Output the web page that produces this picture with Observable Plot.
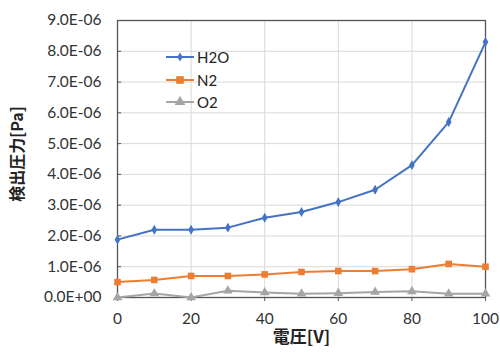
<!DOCTYPE html>
<html>
<head>
<meta charset="utf-8">
<script src="https://cdn.jsdelivr.net/npm/d3@7"></script>
<script src="https://cdn.jsdelivr.net/npm/@observablehq/plot@0.6"></script>
<style>
  body { margin: 0; background: #fff; }
  #wrap { position: relative; width: 500px; height: 352px; }
  #legend { position: absolute; left: 166px; top: 46px; font-family: Lato, "Open Sans", sans-serif; font-size: 15px; color: #222; }
  #legend .item { display: flex; align-items: center; height: 22.5px; }
  #legend svg { margin-right: 3px; }
</style>
</head>
<body>
<div id="wrap"><div id="legend"></div></div>
<script>
// ---- data ----
const voltage = [0, 10, 20, 30, 40, 50, 60, 70, 80, 90, 100];
const h2o = [1.88e-6, 2.2e-6, 2.2e-6, 2.27e-6, 2.59e-6, 2.78e-6, 3.1e-6, 3.5e-6, 4.3e-6, 5.7e-6, 8.3e-6];
const n2  = [0.5e-6, 0.57e-6, 0.7e-6, 0.7e-6, 0.75e-6, 0.83e-6, 0.86e-6, 0.86e-6, 0.92e-6, 1.09e-6, 1.0e-6];
const o2  = [0.0, 0.13e-6, 0.0, 0.22e-6, 0.16e-6, 0.12e-6, 0.14e-6, 0.18e-6, 0.2e-6, 0.12e-6, 0.12e-6];
const seriesNames = ["H2O", "N2", "O2"];
const seriesColors = ["#4472C4", "#ED7D31", "#A5A5A5"];
const seriesSymbols = ["diamond", "square", "triangle"];
const xTicks = [0, 20, 40, 60, 80, 100];
const yTicks = [0, 1e-6, 2e-6, 3e-6, 4e-6, 5e-6, 6e-6, 7e-6, 8e-6, 9e-6];
const xTitle = "電圧[V]";
const yTitle = "検出圧力[Pa]";

const seriesValues = [h2o, n2, o2];
const rows = seriesNames.flatMap((name, i) =>
  voltage.map((v, j) => ({series: name, x: v, y: seriesValues[i][j]})));

function sci(d) {
  if (d === 0) return "0.0E+00";
  let e = Math.floor(Math.log10(Math.abs(d)) + 1e-9);
  let m = d / Math.pow(10, e);
  if (Math.round(m * 10) / 10 >= 10) { m /= 10; e += 1; }
  const sign = e < 0 ? "-" : "+";
  return m.toFixed(1) + "E" + sign + String(Math.abs(e)).padStart(2, "0");
}

const tickFont = "Lato, 'Open Sans', sans-serif";
const titleFont = "'Noto Sans CJK JP', sans-serif";
const sizes = {H2O: 2.8, N2: 4.3, O2: 4.0};

const chart = Plot.plot({
  width: 500,
  height: 352,
  marginLeft: 117,
  marginRight: 15,
  marginTop: 20,
  marginBottom: 55,
  style: {fontFamily: tickFont, fontSize: "15px", color: "#333", background: "#fff"},
  x: {domain: [0, 100]},
  y: {domain: [0, 9e-6]},
  color: {domain: seriesNames, range: seriesColors},
  symbol: {domain: seriesNames, range: seriesSymbols},
  marks: [
    Plot.gridX(xTicks, {stroke: "#d9d9d9", strokeOpacity: 1}),
    Plot.gridY(yTicks, {stroke: "#d9d9d9", strokeOpacity: 1}),
    Plot.axisY(yTicks, {tickSize: 0, tickPadding: 16, tickFormat: sci, fontSize: 15.5, label: null, fill: "#333"}),
    Plot.ruleY(yTicks, {x1: 0, x2: 1.1, stroke: "#555"}),
    Plot.axisX(xTicks, {tickSize: 4, tickPadding: 11, fontSize: 15.5, label: null, stroke: "#555", fill: "#333"}),
    Plot.frame({stroke: "#555", strokeWidth: 1.3}),
    Plot.line(rows, {x: "x", y: "y", z: "series", stroke: "series", strokeWidth: 2}),
    Plot.dot(rows, {x: "x", y: "y", symbol: "series", fill: "series", r: d => sizes[d.series]}),
    Plot.text([xTitle], {text: d => d, frameAnchor: "bottom", dy: 45, fontFamily: titleFont, fontWeight: "bold", fontSize: 17, fill: "#222"}),
    Plot.text([yTitle], {text: d => d, frameAnchor: "left", textAnchor: "middle", dx: -100, dy: -5, rotate: -90, fontFamily: titleFont, fontWeight: "bold", fontSize: 16, fill: "#222"})
  ]
});
document.getElementById("wrap").prepend(chart);

const legend = document.getElementById("legend");
seriesNames.forEach((name, i) => {
  const item = document.createElement("div");
  item.className = "item";
  const ns = "http://www.w3.org/2000/svg";
  const svg = document.createElementNS(ns, "svg");
  svg.setAttribute("width", 28); svg.setAttribute("height", 12);
  const line = document.createElementNS(ns, "line");
  line.setAttribute("x1", 0); line.setAttribute("x2", 28);
  line.setAttribute("y1", 6); line.setAttribute("y2", 6);
  line.setAttribute("stroke", seriesColors[i]); line.setAttribute("stroke-width", 2);
  svg.appendChild(line);
  const sym = {diamond: d3.symbolDiamond, square: d3.symbolSquare, triangle: d3.symbolTriangle}[seriesSymbols[i]];
  const r = sizes[name];
  const path = document.createElementNS(ns, "path");
  path.setAttribute("d", d3.symbol(sym, Math.PI * r * r)());
  path.setAttribute("transform", "translate(14,6)");
  path.setAttribute("fill", seriesColors[i]);
  svg.appendChild(path);
  item.appendChild(svg);
  const t = document.createElement("span");
  t.textContent = name;
  item.appendChild(t);
  legend.appendChild(item);
});
</script>
</body>
</html>
